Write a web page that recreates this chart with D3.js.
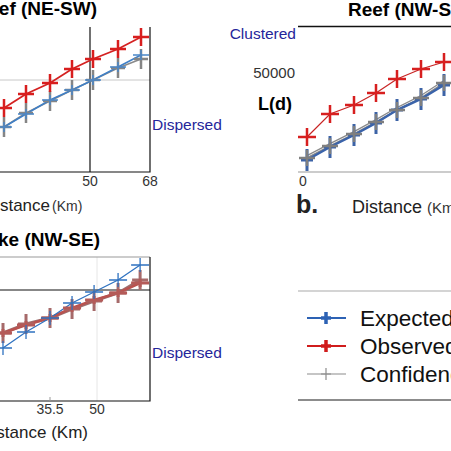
<!DOCTYPE html>
<html>
<head>
<meta charset="utf-8">
<script src="https://cdn.jsdelivr.net/npm/d3@7"></script>
<style>
  html, body { margin: 0; padding: 0; background: #fff; }
  svg { display: block; font-family: "Liberation Sans", Arial, sans-serif; }
</style>
</head>
<body>
<svg id="chart" width="451" height="451"></svg>
<script>
// ---- data (distance in km, L(d) values) ----
var distA = [24.2, 30.8, 38, 44.6, 50.9, 58.4, 65.3];
var expectedA = [22500, 29000, 36000, 41000, 46000, 52500, 58500];
var observedA = [32000, 39000, 44500, 51500, 56500, 61500, 67500];
var confidenceA = [22500, 29500, 35500, 41000, 46000, 52000, 56500];

var distB = [2.4, 9.3, 16.5, 23.1, 29.4, 36.6, 43.5];
var expectedB = [6000, 12500, 18500, 24500, 31000, 36500, 43500];
var observedB = [17500, 29000, 33500, 39500, 46500, 51500, 55000];
var confidenceB = [7000, 13000, 19000, 25000, 31000, 37000, 44500];

var distC = [21.0, 28.1, 35.5, 42.3, 49.1, 56.5, 63.3];
var expectedC = [26500, 34500, 41500, 49000, 54500, 60500, 68000];
var observedC = [34000, 38000, 41500, 46500, 50500, 54000, 59000];
var confidenceC = [34000, 38500, 41500, 46000, 50000, 54000, 60500];

var ticksA = [50, 68];
var ticksB = [0];
var ticksC = [35.5, 50];
var ticksLd = [50000];

var legendLabels = ["Expected", "Observed", "Confidence"];

var svg = d3.select("#chart");

var navy = "#25259a";

function crosses(g, x, y, dist, vals, color, hw, hh, sw) {
  var pts = dist.map(function(d, i) { return [x(d), y(vals[i])]; });
  g.selectAll(null).data(pts).enter().append("path")
    .attr("d", function(p) {
      return "M" + (p[0] - hw) + "," + p[1] + "H" + (p[0] + hw) +
             "M" + p[0] + "," + (p[1] - hh) + "V" + (p[1] + hh);
    })
    .attr("stroke", color).attr("stroke-width", sw).attr("fill", "none");
}

function series(g, x, y, dist, vals, color, lw) {
  var line = d3.line().x(function(d) { return x(d[0]); }).y(function(d) { return y(d[1]); });
  g.append("path")
    .datum(dist.map(function(d, i) { return [d, vals[i]]; }))
    .attr("d", line).attr("fill", "none")
    .attr("stroke", color).attr("stroke-width", lw);
}

/* ------- PANEL A : Reef (NE-SW) ------- */
var xA = d3.scaleLinear().domain([50, 68]).range([90, 150]);
var yA = d3.scaleLinear().domain([0, 72500]).range([172, 27]);
var gA = svg.append("g");
gA.append("line").attr("x1", 0).attr("x2", 150).attr("y1", yA(46000)).attr("y2", yA(46000))
  .attr("stroke", "#c8c8c8").attr("stroke-width", 1);
gA.append("line").attr("x1", xA(50)).attr("x2", xA(50)).attr("y1", 27).attr("y2", 172)
  .attr("stroke", "#111").attr("stroke-width", 1.2);
gA.append("path").attr("d", "M0,172H150V27").attr("fill", "none")
  .attr("stroke", "#111").attr("stroke-width", 1.2);
series(gA, xA, yA, distA, confidenceA, "#8a8a8a", 1.5);
series(gA, xA, yA, distA, expectedA, "#3f7fc6", 1.5);
series(gA, xA, yA, distA, observedA, "#d42121", 1.8);
crosses(gA, xA, yA, distA, confidenceA, "#858585", 7, 10, 2.5);
crosses(gA, xA, yA, distA, expectedA, "#4a86c8", 8, 5, 1.5);
crosses(gA, xA, yA, distA, observedA, "#d81e1e", 8, 9, 2.5);
gA.selectAll(null).data(ticksA).enter().append("text")
  .attr("x", function(d) { return xA(d); }).attr("y", 186)
  .attr("text-anchor", "middle").attr("font-size", 14).attr("fill", "#333")
  .text(function(d) { return d; });
gA.append("text").attr("x", 97).attr("y", 15).attr("text-anchor", "end")
  .attr("font-size", 19).attr("font-weight", "bold").text("Reef (NE-SW)");
gA.append("text").attr("x", 152).attr("y", 130).attr("font-size", 15.5)
  .attr("fill", navy).text("Dispersed");
gA.append("text").attr("x", 50).attr("y", 211).attr("text-anchor", "end")
  .attr("font-size", 17).attr("fill", "#222").text("Distance");
gA.append("text").attr("x", 52).attr("y", 211).attr("font-size", 14).attr("fill", "#333").text("(Km)");

/* ------- PANEL B : Reef (NW-SE) ------- */
var xB = d3.scaleLinear().domain([0, 45]).range([299, 449]);
var yB = d3.scaleLinear().domain([0, 50000]).range([172, 72]);
var gB = svg.append("g");
gB.append("line").attr("x1", 298).attr("x2", 451).attr("y1", 26.5).attr("y2", 26.5)
  .attr("stroke", "#111").attr("stroke-width", 1.3);
gB.append("line").attr("x1", 298).attr("x2", 451).attr("y1", 172).attr("y2", 172)
  .attr("stroke", "#999").attr("stroke-width", 1);
series(gB, xB, yB, distB, confidenceB.map(function(v) { return v + 1200; }), "#8a8a8a", 1.2);
series(gB, xB, yB, distB, confidenceB, "#8a8a8a", 1.5);
series(gB, xB, yB, distB, expectedB, "#3a63aa", 2.5);
series(gB, xB, yB, distB, observedB, "#c82424", 1.2);
crosses(gB, xB, yB, distB, expectedB, "#3c63a6", 6, 11, 3);
crosses(gB, xB, yB, distB, confidenceB, "#7f7f7f", 8, 8, 2.5);
crosses(gB, xB, yB, distB, observedB, "#d71f1f", 9, 9, 2.5);
gB.selectAll(null).data(ticksB).enter().append("text")
  .attr("x", function(d) { return xB(d) + 4; }).attr("y", 186)
  .attr("text-anchor", "middle").attr("font-size", 14).attr("fill", "#333")
  .text(function(d) { return d; });
gB.selectAll(null).data(ticksLd).enter().append("text")
  .attr("x", 295).attr("y", function(d) { return yB(d) + 6; })
  .attr("text-anchor", "end").attr("font-size", 15).attr("fill", "#333")
  .text(function(d) { return d; });
gB.append("text").attr("x", 348).attr("y", 16)
  .attr("font-size", 19).attr("font-weight", "bold").text("Reef (NW-SE)");
gB.append("text").attr("x", 296).attr("y", 39).attr("text-anchor", "end")
  .attr("font-size", 15.5).attr("fill", navy).text("Clustered");
gB.append("text").attr("x", 292).attr("y", 110).attr("text-anchor", "end")
  .attr("font-size", 18).attr("font-weight", "bold").text("L(d)");
gB.append("text").attr("x", 296).attr("y", 213)
  .attr("font-size", 25).attr("font-weight", "bold").attr("fill", "#222").text("b.");
gB.append("text").attr("x", 352).attr("y", 213).attr("font-size", 18).attr("fill", "#222")
  .text("Distance");
gB.append("text").attr("x", 427).attr("y", 213).attr("font-size", 15).attr("fill", "#333")
  .text("(Km)");

/* ------- PANEL C : Lake (NW-SE) ------- */
var xC = d3.scaleLinear().domain([35.5, 50]).range([50, 97]);
var yC = d3.scaleLinear().domain([0, 72000]).range([401, 257]);
var gC = svg.append("g");
gC.append("line").attr("x1", xC(50)).attr("x2", xC(50)).attr("y1", 257).attr("y2", 401)
  .attr("stroke", "#e6e6e6").attr("stroke-width", 1);
gC.append("line").attr("x1", 0).attr("x2", 150).attr("y1", 257).attr("y2", 257)
  .attr("stroke", "#999").attr("stroke-width", 1);
gC.append("line").attr("x1", 0).attr("x2", 150).attr("y1", yC(55500)).attr("y2", yC(55500))
  .attr("stroke", "#111").attr("stroke-width", 1.2);
gC.append("path").attr("d", "M0,401H150V257").attr("fill", "none")
  .attr("stroke", "#111").attr("stroke-width", 1.2);
gC.append("line").attr("x1", xC(35.5)).attr("x2", xC(35.5)).attr("y1", 397).attr("y2", 401)
  .attr("stroke", "#999").attr("stroke-width", 1);
series(gC, xC, yC, distC, confidenceC, "#9c7070", 3);
series(gC, xC, yC, distC, observedC, "#b9524f", 2.5);
series(gC, xC, yC, distC, expectedC, "#2f72c0", 1.3);
crosses(gC, xC, yC, distC, confidenceC, "#a66a6a", 8, 10, 3);
crosses(gC, xC, yC, distC, observedC, "#b45a58", 9, 4, 3);
crosses(gC, xC, yC, distC, expectedC, "#2f72c0", 9, 7, 1.3);
gC.selectAll(null).data(ticksC).enter().append("text")
  .attr("x", function(d) { return xC(d); }).attr("y", 414)
  .attr("text-anchor", "middle").attr("font-size", 14).attr("fill", "#333")
  .text(function(d) { return d; });
gC.append("text").attr("x", 100).attr("y", 246).attr("text-anchor", "end")
  .attr("font-size", 19).attr("font-weight", "bold").text("Lake (NW-SE)");
gC.append("text").attr("x", 152).attr("y", 358).attr("font-size", 15.5)
  .attr("fill", navy).text("Dispersed");
gC.append("text").attr("x", 88).attr("y", 438).attr("text-anchor", "end")
  .attr("font-size", 17).attr("fill", "#222").text("Distance (Km)");

/* ------- LEGEND ------- */
var gL = svg.append("g");
gL.append("line").attr("x1", 298).attr("x2", 451).attr("y1", 291).attr("y2", 291)
  .attr("stroke", "#aaa").attr("stroke-width", 1.2);
gL.append("line").attr("x1", 298).attr("x2", 451).attr("y1", 400).attr("y2", 400)
  .attr("stroke", "#666").attr("stroke-width", 1.6);
var legColors = ["#2d62b4", "#d01c1c", "#8c8c8c"];
var legWidths = [2.2, 2.2, 1.2];
var legMark = [3.5, 3.5, 1.2];
var yLeg = d3.scalePoint().domain(legendLabels).range([318, 374]);
var items = gL.selectAll(null).data(legendLabels).enter().append("g")
  .attr("transform", function(d) { return "translate(0," + yLeg(d) + ")"; });
items.append("line").attr("x1", 307).attr("x2", 346).attr("y1", 0).attr("y2", 0)
  .attr("stroke", function(d, i) { return legColors[i]; })
  .attr("stroke-width", function(d, i) { return legWidths[i]; });
items.append("path").attr("d", "M321,0H331M326,-6V6").attr("fill", "none")
  .attr("stroke", function(d, i) { return legColors[i]; })
  .attr("stroke-width", function(d, i) { return legMark[i]; });
items.append("text").attr("x", 360).attr("y", 8).attr("font-size", 22.5).attr("fill", "#111")
  .text(function(d) { return d; });
</script>
</body>
</html>
